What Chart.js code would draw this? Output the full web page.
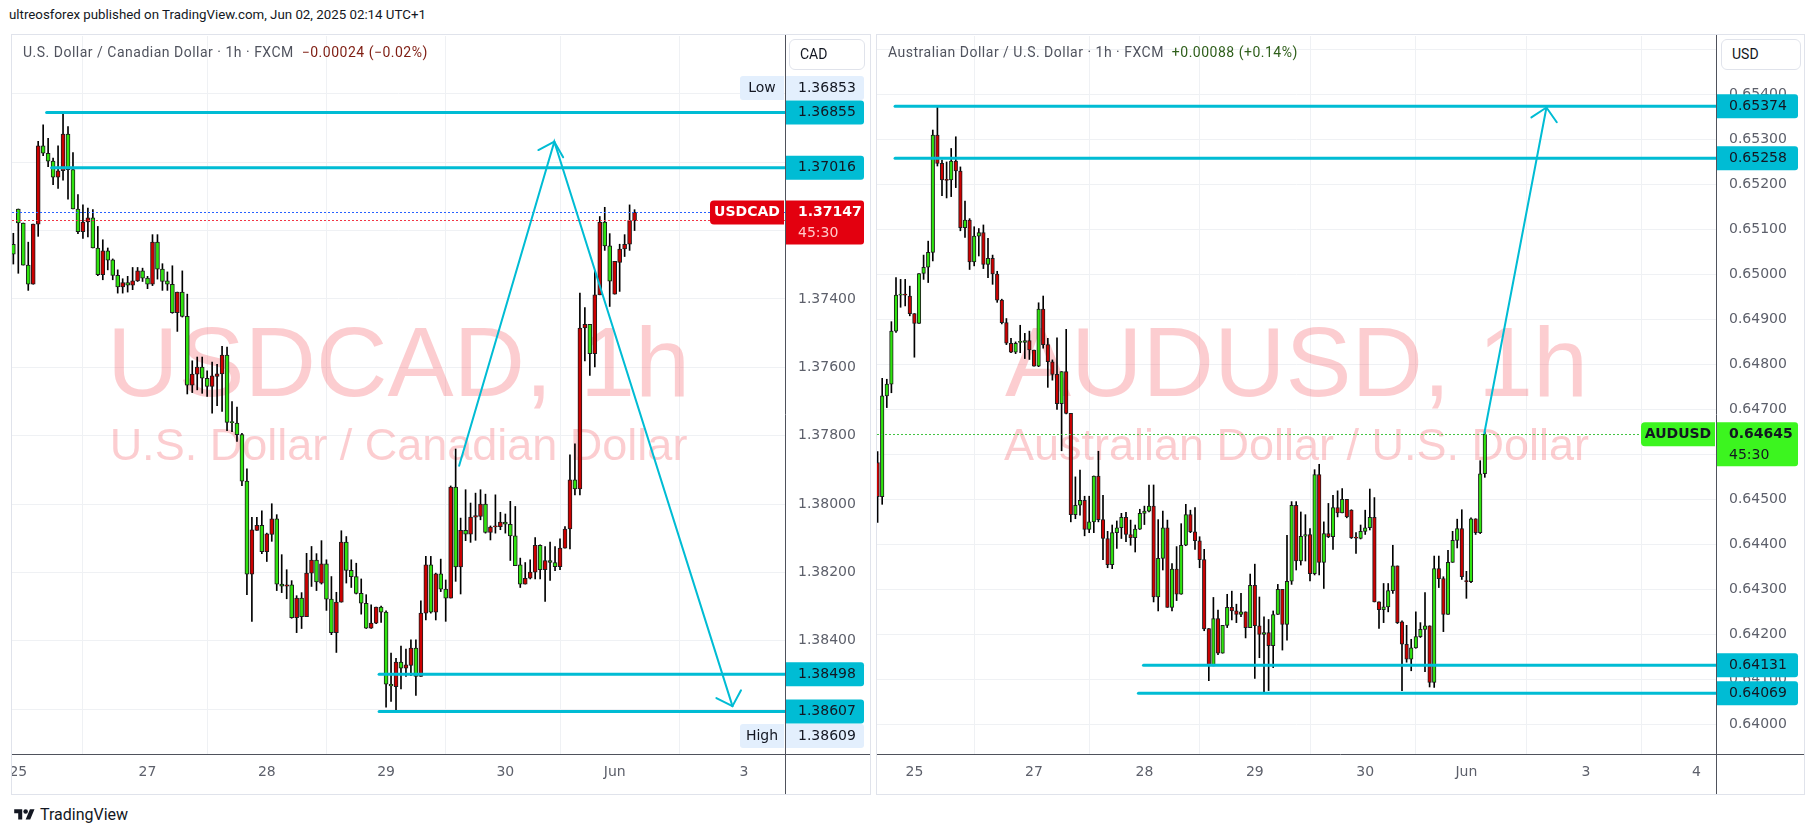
<!DOCTYPE html>
<html>
<head>
<meta charset="utf-8">
<title>USDCAD / AUDUSD 1h</title>
<script src="https://cdn.jsdelivr.net/npm/chart.js@4.4.1/dist/chart.umd.min.js"></script>
<style>
  html, body { margin: 0; padding: 0; background: #fff; }
  body { width: 1817px; height: 837px; position: relative; overflow: hidden; font-family: Roboto, "Noto Sans", sans-serif; color: #131722; }
  #published { position: absolute; left: 9px; top: 7px; font-size: 13.3px; }
  .frame { position: absolute; top: 34px; height: 761px; border: 1px solid #e0e3eb; box-sizing: border-box; }
  canvas { position: absolute; }
  .legend { position: absolute; top: 44px; font-size: 14px; letter-spacing: 0.5px; color: #50535e; white-space: nowrap; }
  .cur { position: absolute; top: 39px; height: 31px; border: 1px solid #e0e3eb; border-radius: 6px; box-sizing: border-box; font-size: 14px; line-height: 29px; padding-left: 10px; background: #fff; }
  #footer { position: absolute; left: 14px; top: 805px; font-size: 16px; display: flex; align-items: center; gap: 5px; }
</style>
</head>
<body>
<div id="published">ultreosforex published on TradingView.com, Jun 02, 2025 02:14 UTC+1</div>
<div class="frame" style="left:11px;width:860px"></div>
<div class="frame" style="left:876px;width:929px"></div>
<canvas id="cad" width="858" height="759" style="left:12px;top:35px"></canvas>
<canvas id="aud" width="927" height="759" style="left:877px;top:35px"></canvas>
<div class="legend" style="left:23px">U.S. Dollar / Canadian Dollar · 1h · FXCM&nbsp; <span style="color:#7f1d12">−0.00024 (−0.02%)</span></div>
<div class="legend" style="left:888px">Australian Dollar / U.S. Dollar · 1h · FXCM&nbsp; <span style="color:#2f5f1a">+0.00088 (+0.14%)</span></div>
<div class="cur" style="left:789px;width:76px">CAD</div>
<div class="cur" style="left:1721px;width:80px">USD</div>
<div id="footer"><svg width="21" height="16" viewBox="0 0 36 28"><path d="M14 22H7V11H0V4h14v18zM28 22h-8l7.5-18h8L28 22z" fill="#131722"/><circle cx="20" cy="8" r="4" fill="#131722"/></svg><span>TradingView</span></div>

<script>
// ---- USDCAD 1h (bar index 0 = 25 May open) ----
const cadFirst = -1;
const cadOpen = [
  1.37240, 1.37137, 1.37178, 1.37301, 1.37357, 1.37181, 1.36952, 1.36974, 1.36997, 1.37044,
  1.37025, 1.36918, 1.37022, 1.37137, 1.37203, 1.37175, 1.37163, 1.37251, 1.37329, 1.37259,
  1.37286, 1.37331, 1.37365, 1.37352, 1.37360, 1.37347, 1.37318, 1.37339, 1.37357, 1.37234,
  1.37313, 1.37347, 1.37357, 1.37440, 1.37380, 1.37451, 1.37652, 1.37620, 1.37599, 1.37632,
  1.37656, 1.37627, 1.37619, 1.37564, 1.37759, 1.37763, 1.37797, 1.37933, 1.38205, 1.38077,
  1.38062, 1.38139, 1.38089, 1.38043, 1.38234, 1.38240, 1.38236, 1.38332, 1.38275, 1.38329,
  1.38202, 1.38164, 1.38231, 1.38175, 1.38278, 1.38376, 1.38287, 1.38111, 1.38194, 1.38212,
  1.38261, 1.38290, 1.38363, 1.38348, 1.38301, 1.38316, 1.38527, 1.38534, 1.38462, 1.38480,
  1.38472, 1.38421, 1.38504, 1.38319, 1.38178, 1.38316, 1.38204, 1.38249, 1.38275, 1.37950,
  1.38184, 1.38077, 1.38088, 1.38038, 1.38036, 1.38000, 1.38083, 1.38066, 1.38066, 1.38053,
  1.38059, 1.38093, 1.38178, 1.38234, 1.38217, 1.38199, 1.38121, 1.38192, 1.38165, 1.38171,
  1.38183, 1.38129, 1.38073, 1.37929, 1.37956, 1.37485, 1.37474, 1.37560, 1.37388, 1.37175,
  1.37245, 1.37386, 1.37293, 1.37254, 1.37240, 1.37171
];
const cadHigh = [
  1.37298, 1.37325, 1.37301, 1.37375, 1.37357, 1.37217, 1.36981, 1.37013, 1.37066, 1.37077,
  1.37053, 1.37108, 1.37137, 1.37209, 1.37223, 1.37219, 1.37251, 1.37332, 1.37344, 1.37315,
  1.37344, 1.37383, 1.37383, 1.37380, 1.37373, 1.37349, 1.37349, 1.37370, 1.37361, 1.37342,
  1.37375, 1.37375, 1.37442, 1.37495, 1.37453, 1.37678, 1.37674, 1.37666, 1.37676, 1.37685,
  1.37734, 1.37712, 1.37729, 1.37785, 1.37788, 1.37817, 1.37946, 1.38265, 1.38343, 1.38077,
  1.38145, 1.38168, 1.38109, 1.38253, 1.38259, 1.38277, 1.38334, 1.38376, 1.38364, 1.38329,
  1.38241, 1.38253, 1.38234, 1.38311, 1.38382, 1.38434, 1.38287, 1.38231, 1.38244, 1.38263,
  1.38322, 1.38364, 1.38364, 1.38350, 1.38346, 1.38594, 1.38577, 1.38609, 1.38541, 1.38504,
  1.38502, 1.38560, 1.38504, 1.38339, 1.38319, 1.38339, 1.38256, 1.38343, 1.38275, 1.38226,
  1.38263, 1.38107, 1.38112, 1.38106, 1.38046, 1.38085, 1.38105, 1.38085, 1.38075, 1.38085,
  1.38165, 1.38180, 1.38244, 1.38234, 1.38219, 1.38219, 1.38219, 1.38285, 1.38223, 1.38195,
  1.38192, 1.38129, 1.38131, 1.37973, 1.37973, 1.37581, 1.37624, 1.37599, 1.37388, 1.37258,
  1.37422, 1.37386, 1.37378, 1.37276, 1.37258, 1.37200
];
const cadLow = [
  1.37208, 1.37137, 1.37178, 1.37234, 1.37181, 1.36939, 1.36891, 1.36930, 1.36988, 1.36952,
  1.36853, 1.36896, 1.36972, 1.37095, 1.37125, 1.37134, 1.37139, 1.37188, 1.37227, 1.37251,
  1.37283, 1.37315, 1.37341, 1.37334, 1.37308, 1.37308, 1.37310, 1.37334, 1.37212, 1.37212,
  1.37297, 1.37321, 1.37303, 1.37380, 1.37318, 1.37386, 1.37581, 1.37570, 1.37570, 1.37610,
  1.37585, 1.37591, 1.37539, 1.37541, 1.37700, 1.37716, 1.37793, 1.37897, 1.38039, 1.38039,
  1.38020, 1.38085, 1.37999, 1.38031, 1.38148, 1.38192, 1.38224, 1.38268, 1.38259, 1.38144,
  1.38124, 1.38145, 1.38107, 1.38163, 1.38212, 1.38258, 1.38078, 1.38095, 1.38163, 1.38173,
  1.38219, 1.38265, 1.38295, 1.38301, 1.38298, 1.38312, 1.38436, 1.38451, 1.38415, 1.38424,
  1.38397, 1.38397, 1.38283, 1.38153, 1.38153, 1.38202, 1.38161, 1.38222, 1.37947, 1.37839,
  1.38041, 1.37958, 1.37997, 1.37968, 1.37958, 1.37971, 1.38064, 1.37973, 1.38024, 1.38029,
  1.37992, 1.38007, 1.38158, 1.38171, 1.38163, 1.38098, 1.38119, 1.38124, 1.38111, 1.38124,
  1.38102, 1.38066, 1.37856, 1.37824, 1.37383, 1.37425, 1.37474, 1.37318, 1.37159, 1.37132,
  1.37209, 1.37290, 1.37240, 1.37212, 1.37125, 1.37139
];
const cadClose = [
  1.37269, 1.37178, 1.37301, 1.37357, 1.37181, 1.36952, 1.36974, 1.36997, 1.37044, 1.37025,
  1.36918, 1.37022, 1.37137, 1.37203, 1.37175, 1.37163, 1.37251, 1.37329, 1.37259, 1.37287,
  1.37331, 1.37365, 1.37352, 1.37360, 1.37347, 1.37318, 1.37339, 1.37357, 1.37234, 1.37313,
  1.37349, 1.37357, 1.37440, 1.37380, 1.37451, 1.37652, 1.37620, 1.37599, 1.37632, 1.37656,
  1.37625, 1.37619, 1.37564, 1.37761, 1.37761, 1.37797, 1.37933, 1.38205, 1.38075, 1.38062,
  1.38139, 1.38087, 1.38043, 1.38234, 1.38240, 1.38236, 1.38332, 1.38275, 1.38329, 1.38202,
  1.38164, 1.38228, 1.38175, 1.38278, 1.38376, 1.38287, 1.38111, 1.38194, 1.38212, 1.38261,
  1.38290, 1.38363, 1.38348, 1.38301, 1.38316, 1.38527, 1.38532, 1.38462, 1.38480, 1.38470,
  1.38421, 1.38504, 1.38319, 1.38178, 1.38316, 1.38204, 1.38249, 1.38275, 1.37950, 1.38184,
  1.38077, 1.38088, 1.38038, 1.38034, 1.38000, 1.38083, 1.38067, 1.38064, 1.38053, 1.38059,
  1.38093, 1.38180, 1.38234, 1.38217, 1.38199, 1.38121, 1.38192, 1.38165, 1.38171, 1.38183,
  1.38129, 1.38073, 1.37929, 1.37956, 1.37485, 1.37474, 1.37560, 1.37388, 1.37175, 1.37245,
  1.37348, 1.37290, 1.37254, 1.37240, 1.37171, 1.37147
];
const cadDayIdx = [0, 26, 50, 74, 98, 120, 146];
const cadDayLbl = ['25', '27', '28', '29', '30', 'Jun', '3'];
const cadTicks = [1.368, 1.370, 1.372, 1.374, 1.376, 1.378, 1.380, 1.382, 1.384, 1.386];
const cadTickHidden = [1.368, 1.370, 1.372, 1.386];
const cadLevels = [1.36855, 1.37016, 1.38498, 1.38607];
const cadLevelFrom = [5.7, 6.7, 72.6, 72.6];
const cadArrow = [[88.7, 1.37888], [107.85, 1.36940], [143.7, 1.38591]];

// ---- AUDUSD 1h ----
const audFirst = -8;
const audOpen = [
  0.64582, 0.64506, 0.64730, 0.64756, 0.64874, 0.64954, 0.64955, 0.64952, 0.64913, 0.64891,
  0.65002, 0.65016, 0.65049, 0.65310, 0.65247, 0.65210, 0.65210, 0.65252, 0.65230, 0.65104,
  0.65121, 0.65028, 0.65085, 0.65093, 0.65022, 0.65036, 0.65001, 0.64943, 0.64893, 0.64847,
  0.64827, 0.64849, 0.64849, 0.64853, 0.64832, 0.64796, 0.64923, 0.64844, 0.64806, 0.64778,
  0.64713, 0.64784, 0.64691, 0.64466, 0.64487, 0.64498, 0.64433, 0.64450, 0.64552, 0.64455,
  0.64413, 0.64355, 0.64426, 0.64437, 0.64460, 0.64422, 0.64415, 0.64434, 0.64469, 0.64474,
  0.64485, 0.64283, 0.64369, 0.64437, 0.64260, 0.64345, 0.64289, 0.64398, 0.64466, 0.64428,
  0.64408, 0.64366, 0.64213, 0.64130, 0.64235, 0.64158, 0.64220, 0.64260, 0.64252, 0.64244,
  0.64250, 0.64215, 0.64309, 0.64219, 0.64200, 0.64204, 0.64175, 0.64244, 0.64300, 0.64222,
  0.64318, 0.64487, 0.64363, 0.64418, 0.64422, 0.64335, 0.64555, 0.64360, 0.64424, 0.64417,
  0.64482, 0.64470, 0.64500, 0.64476, 0.64415, 0.64413, 0.64429, 0.64437, 0.64460, 0.64272,
  0.64255, 0.64261, 0.64297, 0.64352, 0.64228, 0.64178, 0.64145, 0.64170, 0.64195, 0.64211,
  0.64219, 0.64093, 0.64346, 0.64324, 0.64244, 0.64360, 0.64409, 0.64435, 0.64318, 0.64317,
  0.64457, 0.64426, 0.64557
];
const audHigh = [
  0.64606, 0.64769, 0.64767, 0.64895, 0.64993, 0.64989, 0.64989, 0.64974, 0.64913, 0.65002,
  0.65043, 0.65074, 0.65321, 0.65374, 0.65254, 0.65250, 0.65280, 0.65306, 0.65239, 0.65163,
  0.65124, 0.65106, 0.65102, 0.65110, 0.65080, 0.65043, 0.65007, 0.64945, 0.64902, 0.64858,
  0.64850, 0.64887, 0.64869, 0.64874, 0.64832, 0.64937, 0.64952, 0.64858, 0.64810, 0.64859,
  0.64784, 0.64878, 0.64691, 0.64550, 0.64565, 0.64507, 0.64507, 0.64552, 0.64607, 0.64509,
  0.64429, 0.64443, 0.64452, 0.64469, 0.64471, 0.64454, 0.64443, 0.64478, 0.64485, 0.64532,
  0.64532, 0.64455, 0.64474, 0.64454, 0.64357, 0.64395, 0.64446, 0.64489, 0.64476, 0.64482,
  0.64417, 0.64389, 0.64213, 0.64282, 0.64254, 0.64220, 0.64289, 0.64296, 0.64267, 0.64291,
  0.64250, 0.64334, 0.64356, 0.64283, 0.64239, 0.64233, 0.64252, 0.64311, 0.64300, 0.64420,
  0.64495, 0.64495, 0.64472, 0.64466, 0.64435, 0.64566, 0.64578, 0.64450, 0.64491, 0.64509,
  0.64519, 0.64524, 0.64500, 0.64477, 0.64426, 0.64443, 0.64476, 0.64523, 0.64504, 0.64272,
  0.64313, 0.64313, 0.64398, 0.64352, 0.64230, 0.64220, 0.64189, 0.64250, 0.64226, 0.64293,
  0.64219, 0.64374, 0.64374, 0.64328, 0.64387, 0.64429, 0.64456, 0.64477, 0.64340, 0.64459,
  0.64457, 0.64586, 0.64650
];
const audLow = [
  0.64449, 0.64489, 0.64704, 0.64737, 0.64871, 0.64927, 0.64930, 0.64908, 0.64816, 0.64891,
  0.64989, 0.64982, 0.65030, 0.65241, 0.65175, 0.65170, 0.65173, 0.65193, 0.65097, 0.65082,
  0.65011, 0.65019, 0.65041, 0.65013, 0.64993, 0.64978, 0.64938, 0.64890, 0.64844, 0.64826,
  0.64824, 0.64826, 0.64813, 0.64811, 0.64796, 0.64795, 0.64836, 0.64749, 0.64765, 0.64700,
  0.64608, 0.64690, 0.64450, 0.64457, 0.64465, 0.64419, 0.64426, 0.64426, 0.64450, 0.64366,
  0.64348, 0.64346, 0.64391, 0.64413, 0.64406, 0.64398, 0.64383, 0.64433, 0.64444, 0.64472,
  0.64272, 0.64252, 0.64343, 0.64260, 0.64252, 0.64275, 0.64289, 0.64397, 0.64426, 0.64389,
  0.64348, 0.64208, 0.64097, 0.64130, 0.64155, 0.64158, 0.64215, 0.64232, 0.64226, 0.64239,
  0.64192, 0.64215, 0.64102, 0.64148, 0.64069, 0.64075, 0.64126, 0.64244, 0.64165, 0.64187,
  0.64311, 0.64343, 0.64354, 0.64363, 0.64319, 0.64332, 0.64332, 0.64302, 0.64415, 0.64389,
  0.64461, 0.64470, 0.64459, 0.64413, 0.64380, 0.64412, 0.64422, 0.64432, 0.64272, 0.64213,
  0.64226, 0.64250, 0.64291, 0.64224, 0.64075, 0.64138, 0.64119, 0.64169, 0.64193, 0.64117,
  0.64083, 0.64082, 0.64304, 0.64206, 0.64244, 0.64360, 0.64392, 0.64322, 0.64280, 0.64315,
  0.64422, 0.64424, 0.64549
];
const audClose = [
  0.64506, 0.64730, 0.64756, 0.64874, 0.64954, 0.64955, 0.64954, 0.64913, 0.64891, 0.65002,
  0.65016, 0.65049, 0.65310, 0.65247, 0.65210, 0.65209, 0.65252, 0.65230, 0.65104, 0.65121,
  0.65028, 0.65085, 0.65093, 0.65022, 0.65036, 0.65001, 0.64943, 0.64893, 0.64847, 0.64827,
  0.64847, 0.64850, 0.64853, 0.64832, 0.64796, 0.64923, 0.64844, 0.64806, 0.64778, 0.64713,
  0.64784, 0.64691, 0.64466, 0.64487, 0.64498, 0.64433, 0.64450, 0.64552, 0.64455, 0.64413,
  0.64355, 0.64426, 0.64437, 0.64460, 0.64422, 0.64415, 0.64434, 0.64469, 0.64474, 0.64485,
  0.64283, 0.64369, 0.64437, 0.64260, 0.64345, 0.64289, 0.64398, 0.64466, 0.64428, 0.64408,
  0.64366, 0.64212, 0.64130, 0.64235, 0.64158, 0.64220, 0.64260, 0.64252, 0.64244, 0.64250,
  0.64215, 0.64309, 0.64219, 0.64200, 0.64204, 0.64175, 0.64244, 0.64300, 0.64222, 0.64318,
  0.64487, 0.64363, 0.64418, 0.64422, 0.64335, 0.64555, 0.64360, 0.64424, 0.64417, 0.64482,
  0.64470, 0.64500, 0.64461, 0.64415, 0.64414, 0.64429, 0.64437, 0.64460, 0.64272, 0.64255,
  0.64261, 0.64297, 0.64352, 0.64226, 0.64178, 0.64145, 0.64170, 0.64195, 0.64211, 0.64219,
  0.64093, 0.64346, 0.64324, 0.64244, 0.64360, 0.64409, 0.64435, 0.64328, 0.64317, 0.64457,
  0.64426, 0.64557, 0.64645
];
const audDayIdx = [0, 26, 50, 74, 98, 120, 146, 170];
const audDayLbl = ['25', '27', '28', '29', '30', 'Jun', '3', '4'];
const audTicks = [0.640, 0.641, 0.642, 0.643, 0.644, 0.645, 0.646, 0.647, 0.648, 0.649, 0.650, 0.651, 0.652, 0.653, 0.654, 0.655];
const audTickHidden = [0.655];
const audLevels = [0.65374, 0.65258, 0.64131, 0.64069];
const audLevelFrom = [-4.2, -4.2, 49.8, 48.7];
const audArrow = [[123.9, 0.64647], [137.4, 0.65371]];

const UP = '#2fe30f', DOWN = '#cc0000', EDGE = '#1d1d1d';
const CYAN = '#00bcd4', GRID = '#eff1f4', TICK = '#5d606b', AXIS = '#4f525c';
const AXF = '14px "DejaVu Sans"';

function roundBox(ctx, x, y, w, h, r, fill) {
  ctx.fillStyle = fill;
  ctx.beginPath();
  ctx.roundRect(x, y, w, h, r);
  ctx.fill();
}

function overlay(o) {
  return {
    id: 'overlay',
    beforeDatasetsDraw(chart) {
      const { ctx, chartArea: a } = chart;
      const cx = (a.left + a.right) / 2, cy = (a.top + a.bottom) / 2;
      ctx.save();
      ctx.fillStyle = 'rgba(242, 54, 69, 0.25)';
      ctx.textAlign = 'center';
      ctx.textBaseline = 'middle';
      ctx.font = '99px "Liberation Sans"';
      ctx.fillText(o.wmTitle, cx, cy - 26);
      ctx.font = '45px "Liberation Sans"';
      ctx.fillText(o.wmSub, cx, cy + 53);
      ctx.restore();
    },
    afterDatasetsDraw(chart) {
      const { ctx, chartArea: a, scales: { x, y } } = chart;
      ctx.save();
      ctx.beginPath();
      ctx.rect(a.left, a.top, a.right - a.left, a.bottom - a.top);
      ctx.clip();
      // dotted price lines
      ctx.lineWidth = 1;
      ctx.setLineDash([2, 2]);
      o.dots.forEach(d => {
        const py = Math.round(y.getPixelForValue(d[0])) + 0.5;
        ctx.strokeStyle = d[1];
        ctx.beginPath();
        ctx.moveTo(a.left, py);
        ctx.lineTo(a.right, py);
        ctx.stroke();
      });
      ctx.setLineDash([]);
      // horizontal levels
      ctx.strokeStyle = CYAN;
      ctx.lineCap = 'round';
      ctx.lineWidth = 3;
      o.levels.forEach((v, i) => {
        const py = y.getPixelForValue(v);
        ctx.beginPath();
        ctx.moveTo(x.getPixelForValue(o.levelFrom[i]), py);
        ctx.lineTo(a.right, py);
        ctx.stroke();
      });
      // projection arrows
      ctx.lineWidth = 2;
      const pts = o.arrow.map(p => [x.getPixelForValue(p[0]), y.getPixelForValue(p[1])]);
      ctx.beginPath();
      pts.forEach((p, i) => i ? ctx.lineTo(p[0], p[1]) : ctx.moveTo(p[0], p[1]));
      ctx.stroke();
      for (let k = 1; k < pts.length; k++) {
        const [tx, ty] = pts[k], [fx, fy] = pts[k - 1];
        const ang = Math.atan2(ty - fy, tx - fx);
        [1, -1].forEach(s => {
          ctx.beginPath();
          ctx.moveTo(tx, ty);
          ctx.lineTo(tx - 18 * Math.cos(ang + s * 0.8), ty - 18 * Math.sin(ang + s * 0.8));
          ctx.stroke();
        });
      }
      ctx.restore();
    },
    afterDraw(chart) {
      const { ctx, chartArea: a, scales: { x, y }, width: W, height: H } = chart;
      ctx.save();
      ctx.font = AXF;
      ctx.fillStyle = TICK;
      ctx.textBaseline = 'middle';
      ctx.textAlign = 'left';
      o.ticks.forEach(v => {
        if (o.hidden.some(h => Math.abs(h - v) < 1e-7)) return;
        ctx.fillText(v.toFixed(5), a.right + 13, y.getPixelForValue(v));
      });
      ctx.textAlign = 'center';
      o.days.forEach((d, i) => ctx.fillText(o.dayLbl[i], x.getPixelForValue(d), a.bottom + 18));

      // axis separators
      ctx.strokeStyle = AXIS;
      ctx.lineWidth = 1;
      const rx = Math.round(a.right) + 0.5, by = Math.round(a.bottom) + 0.5;
      ctx.beginPath();
      ctx.moveTo(rx, 0); ctx.lineTo(rx, H);
      ctx.moveTo(0, by); ctx.lineTo(W, by);
      ctx.stroke();

      const bx = a.right + 1, bw = W - a.right - 7;
      ctx.textAlign = 'left';
      o.levels.forEach(v => {
        const py = y.getPixelForValue(v);
        roundBox(ctx, bx, py - 12, bw, 24, [0, 3, 3, 0], CYAN);
        ctx.fillStyle = '#131722';
        ctx.fillText(v.toFixed(5), a.right + 13, py);
      });
      // session low / high tags stacked next to the nearest level label
      o.extremes.forEach(e => {
        const py = y.getPixelForValue(e.near) + e.shift;
        roundBox(ctx, a.right - 45, py - 12, 44, 24, [3, 0, 0, 3], '#e3effd');
        roundBox(ctx, bx, py - 12, bw, 24, [0, 3, 3, 0], '#e3effd');
        ctx.fillStyle = '#131722';
        ctx.textAlign = 'center';
        ctx.fillText(e.tag, a.right - 23, py);
        ctx.textAlign = 'left';
        ctx.fillText(e.value.toFixed(5), a.right + 13, py);
      });
      // last price
      const L = o.last, py = y.getPixelForValue(L.value);
      roundBox(ctx, a.right - 75, py - 12, 74, 24, [4, 0, 0, 4], L.bg);
      roundBox(ctx, bx, py - 12, bw, 44, [0, 3, 3, 0], L.bg);
      ctx.fillStyle = L.fg;
      ctx.font = 'bold ' + AXF;
      ctx.textAlign = 'center';
      ctx.fillText(L.name, a.right - 38, py);
      ctx.textAlign = 'left';
      ctx.fillText(L.value.toFixed(5), a.right + 13, py);
      ctx.font = AXF;
      ctx.fillStyle = L.sub;
      ctx.fillText(L.timer, a.right + 13, py + 21);
      ctx.restore();
    }
  };
}

function candleChart(id, s) {
  const idx = s.open.map((_, i) => s.first + i);
  const up = s.open.map((o, i) => s.close[i] >= o);
  return new Chart(document.getElementById(id).getContext('2d'), {
    type: 'bar',
    data: {
      datasets: [
        {
          data: idx.map((v, i) => ({ x: v, y: [s.open[i], s.close[i]] })),
          backgroundColor: up.map(u => u ? UP : DOWN),
          borderColor: EDGE, borderWidth: 1, borderSkipped: false,
          barThickness: s.bodyW, minBarLength: 1, grouped: false, order: 1, clip: 0
        },
        {
          data: idx.map((v, i) => ({ x: v, y: [s.low[i], s.high[i]] })),
          backgroundColor: '#000', barThickness: 1, grouped: false, order: 2, clip: 0
        }
      ]
    },
    options: {
      responsive: false,
      animation: false,
      layout: { padding: { top: 1, left: 0, right: 0, bottom: 0 } },
      plugins: { legend: { display: false }, tooltip: { enabled: false } },
      scales: {
        x: {
          type: 'linear', min: s.xMin, max: s.xMax, offset: false,
          grid: { color: GRID, drawTicks: false }, border: { display: false },
          ticks: { display: false },
          afterBuildTicks: sc => { sc.ticks = s.days.map(v => ({ value: v })); },
          afterFit: sc => { sc.height = 40; }
        },
        y: {
          position: 'right', reverse: s.reverse, min: s.yMin, max: s.yMax,
          grid: { color: GRID, drawTicks: false }, border: { display: false },
          ticks: { display: false },
          afterBuildTicks: sc => { sc.ticks = s.ticks.map(v => ({ value: v })); },
          afterFit: sc => { sc.width = s.axisW; }
        }
      }
    },
    plugins: [overlay(s)]
  });
}

candleChart('cad', {
  first: cadFirst, open: cadOpen, high: cadHigh, low: cadLow, close: cadClose,
  xMin: -1.27, xMax: 154.27, yMin: 1.36631, yMax: 1.38731, reverse: true, axisW: 85, bodyW: 4,
  days: cadDayIdx, dayLbl: cadDayLbl, ticks: cadTicks, hidden: cadTickHidden,
  levels: cadLevels, levelFrom: cadLevelFrom, arrow: cadArrow,
  dots: [[1.37146, '#2962ff'], [1.37170, '#f23645']],
  extremes: [{ tag: 'Low', value: 1.36853, near: 1.36855, shift: -24.5 },
             { tag: 'High', value: 1.38609, near: 1.38607, shift: 24.5 }],
  last: { name: 'USDCAD', value: 1.37147, timer: '45:30', bg: '#e3000f', fg: '#ffffff', sub: '#ffc9c9' },
  wmTitle: 'USDCAD, 1h', wmSub: 'U.S. Dollar / Canadian Dollar'
});

candleChart('aud', {
  first: audFirst, open: audOpen, high: audHigh, low: audLow, close: audClose,
  xMin: -8.13, xMax: 174.26, yMin: 0.63934, yMax: 0.65530, reverse: false, axisW: 88, bodyW: 3.6,
  days: audDayIdx, dayLbl: audDayLbl, ticks: audTicks, hidden: audTickHidden,
  levels: audLevels, levelFrom: audLevelFrom, arrow: audArrow,
  dots: [[0.64645, '#43c443']],
  extremes: [],
  last: { name: 'AUDUSD', value: 0.64645, timer: '45:30', bg: '#3cf51f', fg: '#131722', sub: '#131722' },
  wmTitle: 'AUDUSD, 1h', wmSub: 'Australian Dollar / U.S. Dollar'
});
</script>
</body>
</html>
